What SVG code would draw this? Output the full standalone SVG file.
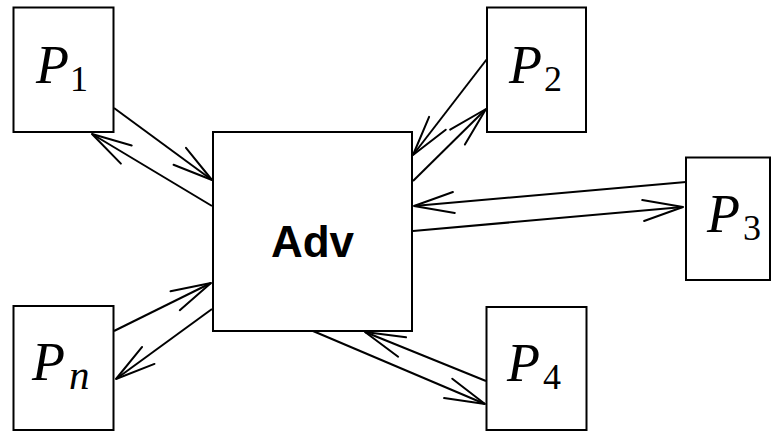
<svg xmlns="http://www.w3.org/2000/svg" width="772" height="431" viewBox="0 0 772 431">
<style>
.box{fill:#fff;stroke:#000;stroke-width:2}
.ln{fill:none;stroke:#000;stroke-width:2;marker-end:url(#arr)}
.P{font-family:"Liberation Serif",serif;font-style:italic;font-size:54px;fill:#000}
.sub{font-family:"Liberation Serif",serif;font-size:36px;fill:#000}
.subi{font-family:"Liberation Serif",serif;font-style:italic;font-size:41px;fill:#000}
.adv{font-family:"Liberation Sans",Arial,sans-serif;font-weight:bold;font-size:44px;fill:#000}
</style>
<defs>
<marker id="arr" markerUnits="userSpaceOnUse" markerWidth="50" markerHeight="30" refX="45" refY="15" orient="auto" viewBox="0 0 50 30" overflow="visible">
<path d="M5,4.5 L45,15 L5,25.5" fill="none" stroke="#000" stroke-width="2" stroke-linejoin="round" stroke-linecap="round"/>
</marker>
</defs>
<rect width="772" height="431" fill="#fff"/>
<g id="connectors">
<line class="ln" x1="114" y1="108" x2="212" y2="180"/>
<line class="ln" x1="212" y1="206" x2="92" y2="134"/>
<line class="ln" x1="487" y1="59" x2="413" y2="155"/>
<line class="ln" x1="413" y1="181" x2="486" y2="109"/>
<line class="ln" x1="686" y1="182" x2="414" y2="206"/>
<line class="ln" x1="413" y1="231" x2="683" y2="207"/>
<line class="ln" x1="212" y1="309" x2="116" y2="379"/>
<line class="ln" x1="114" y1="331" x2="211" y2="283"/>
<line class="ln" x1="313" y1="331" x2="485" y2="404"/>
<line class="ln" x1="486" y1="381" x2="365" y2="332"/>
</g>
<g id="adv">
<rect class="box" x="213" y="132" width="199" height="199"/>
<text class="adv" x="312.5" y="257" text-anchor="middle">Adv</text>
</g>
<g id="p1">
<rect class="box" x="13.5" y="7.5" width="100" height="124.5"/>
<text class="P" x="36" y="83">P</text><text class="sub" x="70" y="91">1</text>
</g>
<g id="p2">
<rect class="box" x="487" y="7.5" width="99" height="124.5"/>
<text class="P" x="509" y="83">P</text><text class="sub" x="544" y="91">2</text>
</g>
<g id="p3">
<rect class="box" x="686" y="157.5" width="84" height="122.5"/>
<text class="P" x="707" y="232">P</text><text class="sub" x="743" y="240">3</text>
</g>
<g id="pn">
<rect class="box" x="13.5" y="306" width="100" height="124"/>
<text class="P" x="32" y="380">P</text><text class="subi" x="69" y="389">n</text>
</g>
<g id="p4">
<rect class="box" x="486.5" y="307" width="100" height="123"/>
<text class="P" x="507" y="381">P</text><text class="sub" x="543" y="389">4</text>
</g>
</svg>
